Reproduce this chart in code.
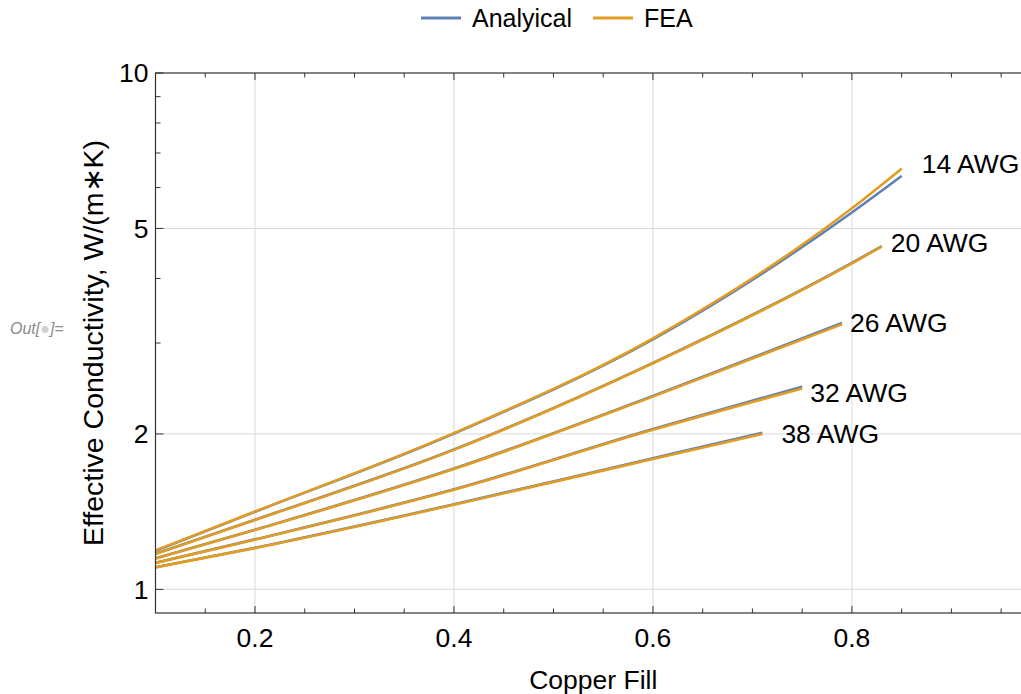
<!DOCTYPE html>
<html>
<head>
<meta charset="utf-8">
<script src="https://cdn.jsdelivr.net/npm/d3@7"></script>
<style>
  body { margin: 0; background: #fff; }
  svg { display: block; font-family: 'Liberation Sans', Arial, sans-serif; }
</style>
</head>
<body>
<div id="chart"></div>
<script>
// values
const gauges = ['14 AWG', '20 AWG', '26 AWG', '32 AWG', '38 AWG'];
const fill14 = [0.1, 0.2, 0.4, 0.6, 0.8, 0.85];
const fea14 = [1.19, 1.415, 2.007, 3.064, 5.47, 6.53];
const ana14 = [1.188, 1.413, 2.004, 3.05, 5.37, 6.32];
const fill20 = [0.1, 0.2, 0.4, 0.6, 0.8, 0.83];
const fea20 = [1.171, 1.362, 1.863, 2.741, 4.28, 4.61];
const ana20 = [1.172, 1.364, 1.866, 2.746, 4.29, 4.62];
const fill26 = [0.1, 0.2, 0.4, 0.6, 0.79];
const fea26 = [1.147, 1.303, 1.71, 2.362, 3.26];
const ana26 = [1.148, 1.305, 1.714, 2.37, 3.28];
const fill32 = [0.1, 0.2, 0.4, 0.6, 0.75];
const fea32 = [1.125, 1.248, 1.559, 2.037, 2.45];
const ana32 = [1.126, 1.25, 1.562, 2.045, 2.47];
const fill38 = [0.1, 0.2, 0.4, 0.6, 0.71];
const fea38 = [1.103, 1.202, 1.458, 1.788, 2.0];
const ana38 = [1.104, 1.204, 1.461, 1.795, 2.01];
const xTicks = [0.2, 0.4, 0.6, 0.8];
const xMinor = [0.15, 0.25, 0.3, 0.35, 0.45, 0.5, 0.55, 0.65, 0.7, 0.75, 0.85, 0.9, 0.95];
const yTicks = [1, 2, 5, 10];
const yMinor = [3, 4, 6, 7, 8, 9];
const seriesNames = ['Analyical', 'FEA'];

const fills = [fill14, fill20, fill26, fill32, fill38];
const feas = [fea14, fea20, fea26, fea32, fea38];
const anas = [ana14, ana20, ana26, ana32, ana38];
const colors = ['#5e81b5', '#e19c24'];

// label offsets from each curve end (dx, dy)
const labelNudge = [[20, -5], [9, -4], [8, -2], [8, 4], [19, 0]];

const width = 1021;
const height = 694;
const margin = { top: 73, bottom: 81, left: 155.5, right: -10 };
const fontSize = 26.5;

const svg = d3
  .select('#chart')
  .append('svg')
  .attr('width', width)
  .attr('height', height);

const x = d3
  .scaleLinear()
  .domain([0.1, 0.98])
  .range([margin.left, width - margin.right]);

const y = d3
  .scaleLog()
  .domain([0.9, 10])
  .range([height - margin.bottom, margin.top]);

const plotL = x.range()[0];
const plotR = x.range()[1];
const plotT = y.range()[1];
const plotB = y.range()[0];

// grid
svg.selectAll('.vgrid')
  .data(xTicks)
  .enter()
  .append('line')
  .attr('x1', (d) => x(d))
  .attr('x2', (d) => x(d))
  .attr('y1', plotT)
  .attr('y2', plotB)
  .attr('stroke', '#d9d9d9')
  .attr('stroke-width', 1);

svg.selectAll('.hgrid')
  .data(yTicks.filter((d) => d < 10))
  .enter()
  .append('line')
  .attr('x1', plotL)
  .attr('x2', plotR)
  .attr('y1', (d) => y(d))
  .attr('y2', (d) => y(d))
  .attr('stroke', '#d9d9d9')
  .attr('stroke-width', 1);

// curves: analytical under FEA
const line = d3
  .line()
  .x((d) => x(d[0]))
  .y((d) => y(d[1]))
  .curve(d3.curveMonotoneX);

const curves = svg.append('g');
[anas, feas].forEach((set, si) => {
  set.forEach((vals, gi) => {
    const pts = fills[gi].map((f, i) => [f, vals[i]]);
    curves
      .append('path')
      .attr('d', line(pts))
      .attr('fill', 'none')
      .attr('stroke', colors[si])
      .attr('stroke-width', 2.6);
  });
});

// curve labels
gauges.forEach((g, gi) => {
  const f = fills[gi];
  const v = feas[gi];
  svg
    .append('text')
    .attr('x', x(f[f.length - 1]) + labelNudge[gi][0])
    .attr('y', y(v[v.length - 1]) + labelNudge[gi][1])
    .attr('dy', '0.35em')
    .attr('font-size', fontSize)
    .attr('fill', '#000')
    .text(g);
});

// frame
svg
  .append('rect')
  .attr('x', plotL)
  .attr('y', plotT)
  .attr('width', plotR - plotL)
  .attr('height', plotB - plotT)
  .attr('fill', 'none')
  .attr('stroke', '#333')
  .attr('stroke-width', 1.2);

// x ticks (bottom and top, pointing inward)
const xTickData = xTicks.map((d) => ({ v: d, len: 7 })).concat(xMinor.map((d) => ({ v: d, len: 4.5 })));
svg.selectAll('.xtick')
  .data(xTickData)
  .enter()
  .append('line')
  .attr('x1', (d) => x(d.v))
  .attr('x2', (d) => x(d.v))
  .attr('y1', plotB)
  .attr('y2', (d) => plotB - d.len)
  .attr('stroke', '#333');
svg.selectAll('.xtick-top')
  .data(xTickData)
  .enter()
  .append('line')
  .attr('x1', (d) => x(d.v))
  .attr('x2', (d) => x(d.v))
  .attr('y1', plotT)
  .attr('y2', (d) => plotT + d.len)
  .attr('stroke', '#333');

const yTickData = yTicks.map((d) => ({ v: d, len: 8 })).concat(yMinor.map((d) => ({ v: d, len: 5 })));
svg.selectAll('.ytick')
  .data(yTickData)
  .enter()
  .append('line')
  .attr('x1', plotL)
  .attr('x2', (d) => plotL + d.len)
  .attr('y1', (d) => y(d.v))
  .attr('y2', (d) => y(d.v))
  .attr('stroke', '#333');

svg.selectAll('.xlabel')
  .data(xTicks)
  .enter()
  .append('text')
  .attr('x', (d) => x(d))
  .attr('y', plotB + 25)
  .attr('dy', '0.35em')
  .attr('text-anchor', 'middle')
  .attr('font-size', fontSize)
  .text((d) => d3.format('.1f')(d));

svg.selectAll('.ylabel')
  .data(yTicks)
  .enter()
  .append('text')
  .attr('x', plotL - 7)
  .attr('y', (d) => y(d))
  .attr('dy', '0.35em')
  .attr('text-anchor', 'end')
  .attr('font-size', fontSize)
  .text((d) => d);

// axis titles
svg
  .append('text')
  .attr('x', (plotL + plotR) / 2)
  .attr('y', 680)
  .attr('dy', '0.35em')
  .attr('text-anchor', 'middle')
  .attr('font-size', fontSize)
  .text('Copper Fill');

svg
  .append('text')
  .attr('transform', `translate(93, ${(plotT + plotB) / 2}) rotate(-90)`)
  .attr('text-anchor', 'middle')
  .attr('dy', '0.35em')
  .attr('font-size', 28.5)
  .text('Effective Conductivity, W/(m\u2217K)');

// Out[] marker
const out = svg
  .append('text')
  .attr('x', 10)
  .attr('y', 328)
  .attr('dy', '0.35em')
  .attr('font-size', 16)
  .attr('font-style', 'italic')
  .attr('fill', '#8c8c8c');
out.append('tspan').text('Out[');
out.append('tspan').attr('fill', '#d0d0d0').text('\u25cf');
out.append('tspan').text(']=');

// legend
const legend = svg.append('g').attr('transform', 'translate(421, 18)');
const items = [{ name: seriesNames[0], x: 0 }, { name: seriesNames[1], x: 172 }];
items.forEach((it, i) => {
  legend
    .append('line')
    .attr('x1', it.x)
    .attr('x2', it.x + 40)
    .attr('y1', 0)
    .attr('y2', 0)
    .attr('stroke', colors[i])
    .attr('stroke-width', 3);
  legend
    .append('text')
    .attr('x', it.x + 51)
    .attr('y', 0)
    .attr('dy', '0.35em')
    .attr('font-size', 25)
    .text(it.name);
});
</script>
</body>
</html>
